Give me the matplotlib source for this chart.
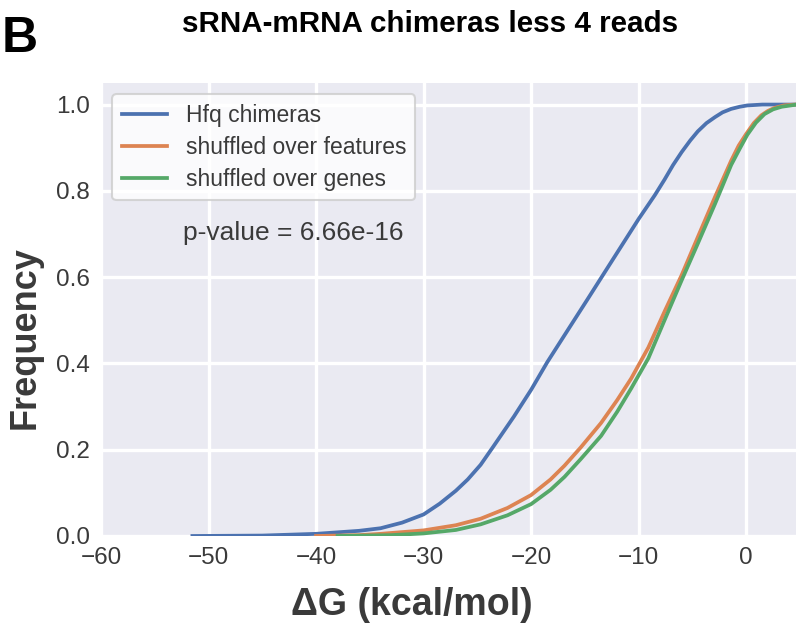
import matplotlib
matplotlib.use("Agg")
import matplotlib.pyplot as plt

# cumulative distributions of the hybrid energy
hfq_dg = [-51.5, -45, -40, -36, -34, -32, -30, -28.5, -27, -25.9, -24.7, -23.5, -21.6, -20.0,
          -18.5, -16.6, -14.8, -13.5, -12.3, -10, -8.5, -7.6, -6.8, -6.0, -5.2, -4.5, -3.7,
          -2.9, -2.2, -1.4, -0.6, 0.1, 1.5, 5]
hfq_freq = [0.0, 0.001, 0.005, 0.012, 0.018, 0.031, 0.05, 0.075, 0.105, 0.131, 0.165, 0.208, 0.277,
            0.339, 0.403, 0.477, 0.547, 0.598, 0.645, 0.735, 0.79, 0.826, 0.86, 0.89, 0.917, 0.938,
            0.957, 0.971, 0.982, 0.99, 0.995, 0.998, 1.0, 1.0]

feat_dg = [-40, -36, -34, -30, -27, -24.7, -22.2, -20, -18.2, -16.9, -15.4, -13.5, -12,
           -10.7, -9.1, -7.6, -6.0, -4.5, -2.9, -1.4, -0.7, 0, 0.7, 1.4, 2.0, 2.6, 3.5, 4.5, 5]
feat_freq = [0.0, 0.002, 0.005, 0.013, 0.025, 0.040, 0.065, 0.095, 0.131, 0.163, 0.205, 0.262, 0.315,
             0.365, 0.437, 0.52, 0.605, 0.693, 0.786, 0.87, 0.905, 0.932, 0.957, 0.975, 0.985,
             0.992, 0.998, 1.0, 1.0]

genes_dg = [-38, -33, -30, -27, -24.7, -22.2, -20, -18.2, -16.9, -15.4, -13.5, -12,
            -10.7, -9.1, -7.6, -6.0, -4.5, -2.9, -1.4, -0.6, 0.1, 0.9, 1.7, 2.5, 3.3, 4.7, 5]
genes_freq = [0.0, 0.002, 0.006, 0.014, 0.027, 0.048, 0.074, 0.107, 0.137, 0.178, 0.232, 0.288,
              0.342, 0.412, 0.5, 0.593, 0.678, 0.77, 0.86, 0.898, 0.93, 0.958, 0.978, 0.989,
              0.995, 1.0, 1.0]

labels = ["Hfq chimeras", "shuffled over features", "shuffled over genes"]
colors = ["#4C72B0", "#DD8452", "#55A868"]
xticks = [-60, -50, -40, -30, -20, -10, 0]
yticks = [0.0, 0.2, 0.4, 0.6, 0.8, 1.0]

plt.rcParams['font.family'] = ['Liberation Sans', 'DejaVu Sans']
text_col = "#3a3a3a"

fig = plt.figure(figsize=(7.96, 6.32), dpi=100)
ax = fig.add_axes([101 / 796, 1 - 536 / 632, 699 / 796, 453 / 632])
ax.set_facecolor("#EAEAF2")
for s in ax.spines.values():
    s.set_visible(False)
ax.grid(True, color="white", linewidth=2.4)
ax.set_axisbelow(True)

ax.plot(hfq_dg, hfq_freq, color=colors[0], lw=2.7, label=labels[0])
ax.plot(feat_dg, feat_freq, color=colors[1], lw=2.7, label=labels[1])
ax.plot(genes_dg, genes_freq, color=colors[2], lw=2.7, label=labels[2])

ax.set_xlim(-60, 5)
ax.set_ylim(0, 1.05)
ax.set_xticks(xticks)
ax.set_yticks(yticks)
ax.tick_params(length=0, labelsize=17.5, colors=text_col, pad=8)

leg = ax.legend(loc="upper left", fontsize=16.5, framealpha=0.8, labelspacing=0.4)
for t in leg.get_texts():
    t.set_color(text_col)
leg.get_frame().set_edgecolor("#cccccc")
leg.get_frame().set_linewidth(1.5)

ax.text(0.117, 0.669, "p-value = 6.66e-16", transform=ax.transAxes,
        fontsize=19, color=text_col, va="center")

fig.text(412 / 796, 1 - 605 / 632, "ΔG (kcal/mol)", ha="center", va="center",
         fontsize=27, fontweight="bold", color=text_col)
fig.text(25 / 796, 1 - 338 / 632, "Frequency", ha="center", va="center", rotation=90,
         fontsize=26, fontweight="bold", color=text_col)
fig.text(430 / 796, 1 - 24 / 632, "sRNA-mRNA chimeras less 4 reads", ha="center", va="center",
         fontsize=21.3, fontweight="bold", color="black")
fig.text(2 / 796, 1 - 39 / 632, "B", ha="left", va="center",
         fontsize=36, fontweight="bold", color="black")

fig.savefig("out.png", dpi=100)
